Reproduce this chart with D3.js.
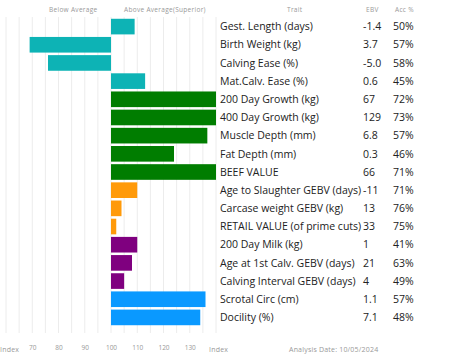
<!DOCTYPE html>
<html>
<head>
<meta charset="utf-8">
<script src="https://cdn.jsdelivr.net/npm/d3@7"></script>
<style>
  body { margin: 0; background: #fff; }
  svg { display: block; font-family: "Open Sans", sans-serif; }
</style>
</head>
<body>
<svg id="chart" width="453" height="362"></svg>
<script>
// trait rows, top to bottom
const traits = ["Gest. Length (days)", "Birth Weight (kg)", "Calving Ease (%)", "Mat.Calv. Ease (%)",
  "200 Day Growth (kg)", "400 Day Growth (kg)", "Muscle Depth (mm)", "Fat Depth (mm)", "BEEF VALUE",
  "Age to Slaughter GEBV (days)", "Carcase weight GEBV (kg)", "RETAIL VALUE (of prime cuts)",
  "200 Day Milk (kg)", "Age at 1st Calv. GEBV (days)", "Calving Interval GEBV (days)",
  "Scrotal Circ (cm)", "Docility (%)"];
const ebv = ["-1.4", "3.7", "-5.0", "0.6", "67", "129", "6.8", "0.3", "66", "-11", "13", "33", "1", "21", "4", "1.1", "7.1"];
const acc = ["50%", "57%", "58%", "45%", "72%", "73%", "57%", "46%", "71%", "71%", "76%", "75%", "41%", "63%", "49%", "57%", "48%"];
// index (100 = average)
const indexVals = [109, 69, 76, 113, 142, 142, 136.7, 124, 142, 110, 104, 102, 110, 108, 105, 136, 134];
const groups = ["calving", "calving", "calving", "calving", "growth", "growth", "growth", "growth", "growth",
  "carcase", "carcase", "carcase", "maternal", "maternal", "maternal", "other", "other"];
const ticks = [70, 80, 90, 100, 110, 120, 130];

const colors = { calving: "#0db3b5", growth: "#007d00", carcase: "#ff9a0a", maternal: "#7f007f", other: "#0a99ff" };

const svg = d3.select("#chart");

const x = d3.scaleLinear().domain([60, 140]).range([6, 216]).clamp(true);
const y = d3.scaleBand().domain(traits).range([17.5, 326.5]).paddingInner(0.14).paddingOuter(0.07);

// grid
svg.append("g").selectAll("line")
  .data(d3.range(60, 141, 5))
  .join("line")
  .attr("x1", d => x(d)).attr("x2", d => x(d))
  .attr("y1", 17).attr("y2", 333)
  .attr("stroke", "#ececec").attr("stroke-width", 1);

// bars
svg.append("g").selectAll("rect")
  .data(traits)
  .join("rect")
  .attr("x", (d, i) => Math.min(x(100), x(indexVals[i])))
  .attr("width", (d, i) => Math.abs(x(indexVals[i]) - x(100)))
  .attr("y", d => y(d))
  .attr("height", y.bandwidth())
  .attr("fill", (d, i) => colors[groups[i]]);

// table
const rows = svg.append("g").selectAll("g")
  .data(traits)
  .join("g")
  .attr("transform", d => `translate(0,${y(d) + y.bandwidth() / 2})`);

rows.append("text").attr("x", 220).attr("dy", "0.35em")
  .attr("font-size", 10.5).attr("fill", "#222").text(d => d);
rows.append("text").attr("x", 363).attr("dy", "0.35em")
  .attr("font-size", 10.5).attr("fill", "#222").text((d, i) => ebv[i]);
rows.append("text").attr("x", 393).attr("dy", "0.35em")
  .attr("font-size", 10.5).attr("fill", "#222").text((d, i) => acc[i]);

// headers
const head = svg.append("g").attr("font-size", 6.5).attr("fill", "#999").attr("letter-spacing", 0.3);
head.append("text").attr("x", 49).attr("y", 12).text("Below Average");
head.append("text").attr("x", 124).attr("y", 12).text("Above Average(Superior)");
head.append("text").attr("x", 287).attr("y", 12).text("Trait");
head.append("text").attr("x", 366).attr("y", 12).text("EBV");
head.append("text").attr("x", 395).attr("y", 12).text("Acc %");

// bottom axis
const axis = svg.append("g")
  .attr("transform", "translate(0,345)")
  .call(d3.axisBottom(x).tickValues(ticks).tickSize(0).tickPadding(0));
axis.select(".domain").remove();
axis.selectAll("text").attr("font-size", 6.5).attr("fill", "#999").attr("font-family", "Open Sans, sans-serif");

const foot = svg.append("g").attr("font-size", 7).attr("fill", "#999").attr("letter-spacing", 0.2);
foot.append("text").attr("x", 0).attr("y", 352).text("Index");
foot.append("text").attr("x", 209).attr("y", 352).text("Index");
foot.append("text").attr("x", 289).attr("y", 352).text("Analysis Date: 10/05/2024");
</script>
</body>
</html>
